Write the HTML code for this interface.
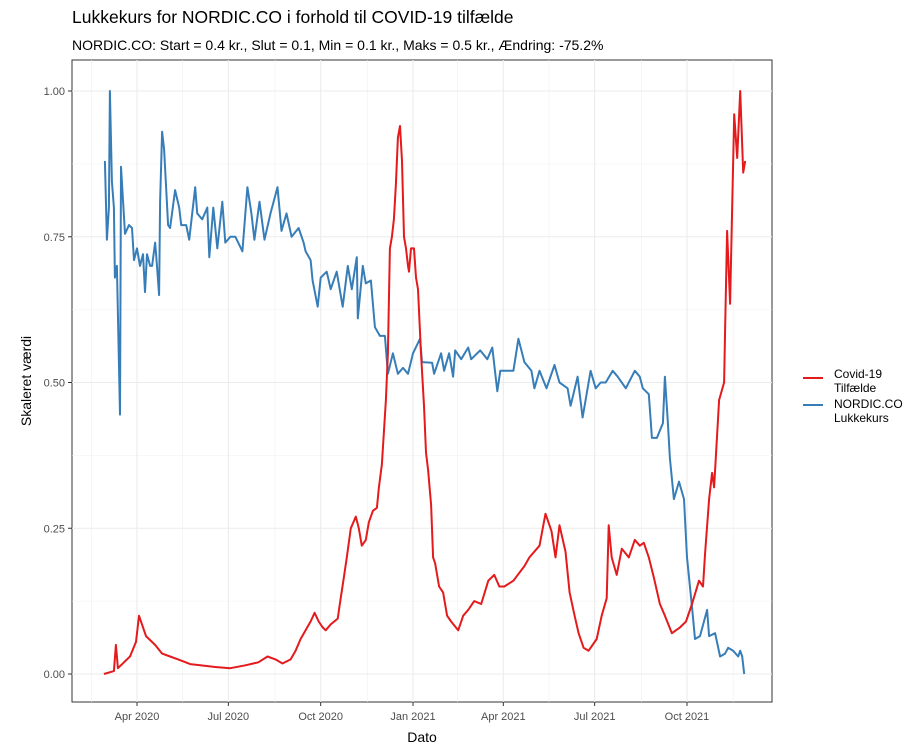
<!DOCTYPE html>
<html><head><meta charset="utf-8"><style>
body{margin:0;background:#fff;font-family:"Liberation Sans",sans-serif}
svg text{font-family:"Liberation Sans",sans-serif}
</style></head><body>
<svg id="c" width="921" height="749" xmlns="http://www.w3.org/2000/svg">
<text x="72" y="23" font-size="17.5" fill="#000">Lukkekurs for NORDIC.CO i forhold til COVID-19 tilfælde</text>
<text x="72" y="50" font-size="14" fill="#000">NORDIC.CO: Start = 0.4 kr., Slut = 0.1, Min = 0.1 kr., Maks = 0.5 kr., Ændring: -75.2%</text>
<rect x="72" y="60" width="700" height="642" fill="#fff" stroke="#333" stroke-width="1"/>
<g id="grid"></g><g id="series"></g><g id="axes"></g>
<text transform="translate(31,381) rotate(-90)" text-anchor="middle" font-size="14">Skaleret værdi</text>
<text x="422" y="742" text-anchor="middle" font-size="14">Dato</text>
<g>
<line x1="803" y1="378" x2="823" y2="378" stroke="#e41a1c" stroke-width="2"/>
<text x="834" y="378" font-size="12">Covid-19</text>
<text x="834" y="392" font-size="12">Tilfælde</text>
<line x1="803" y1="405" x2="823" y2="405" stroke="#377eb8" stroke-width="2"/>
<text x="834" y="408" font-size="12">NORDIC.CO</text>
<text x="834" y="422" font-size="12">Lukkekurs</text>
</g>
</svg>
<script>
// [days since 2020-03-01, scaled value]
const redSeries=[[-2,0],[8,0.005],[10,0.05],[12,0.01],[18,0.02],[24,0.03],[30,0.055],[33,0.10],[36,0.085],[40,0.065],[49,0.05],[56,0.035],[64,0.03],[72,0.025],[84,0.017],[94,0.015],[109,0.012],[124,0.01],[139,0.015],[152,0.02],[161,0.03],[169,0.025],[176,0.018],[184,0.025],[189,0.04],[194,0.06],[199,0.075],[204,0.09],[208,0.105],[212,0.09],[216,0.08],[219,0.075],[224,0.085],[231,0.095],[234,0.13],[237,0.165],[240,0.2],[244,0.25],[249,0.27],[252,0.25],[255,0.22],[259,0.23],[262,0.26],[266,0.28],[270,0.285],[272,0.32],[275,0.36],[279,0.47],[281,0.55],[283,0.73],[285,0.75],[287,0.78],[289,0.84],[291,0.92],[293,0.94],[295,0.88],[297,0.75],[299,0.73],[301,0.70],[302,0.69],[304,0.73],[307,0.73],[309,0.68],[311,0.66],[314,0.55],[317,0.46],[319,0.38],[321,0.35],[324,0.29],[326,0.2],[328,0.19],[332,0.15],[336,0.14],[340,0.10],[344,0.09],[351,0.075],[356,0.10],[361,0.11],[367,0.125],[374,0.12],[381,0.16],[387,0.17],[392,0.15],[397,0.15],[406,0.16],[417,0.185],[422,0.2],[432,0.22],[438,0.275],[444,0.245],[448,0.2],[452,0.255],[458,0.21],[462,0.14],[467,0.10],[471,0.07],[476,0.045],[481,0.04],[489,0.06],[494,0.10],[499,0.13],[501,0.255],[504,0.2],[509,0.17],[514,0.215],[521,0.2],[527,0.23],[532,0.22],[536,0.225],[541,0.2],[546,0.165],[552,0.12],[557,0.10],[564,0.07],[572,0.08],[578,0.09],[584,0.12],[591,0.16],[595,0.15],[597,0.205],[601,0.30],[604,0.345],[606,0.32],[611,0.47],[616,0.5],[617,0.59],[619,0.76],[622,0.635],[624,0.795],[626,0.96],[629,0.885],[632,1.0],[635,0.86],[637,0.88]];
const blueSeries=[[-1,0.88],[1,0.745],[3,0.8],[4,1.0],[6,0.845],[8,0.8],[9,0.68],[11,0.7],[14,0.445],[15,0.87],[19,0.755],[23,0.77],[26,0.765],[28,0.71],[31,0.73],[34,0.70],[37,0.72],[39,0.655],[41,0.72],[44,0.70],[46,0.70],[49,0.74],[50,0.72],[53,0.65],[54,0.81],[56,0.93],[58,0.9],[62,0.77],[64,0.765],[69,0.83],[73,0.8],[75,0.77],[80,0.77],[83,0.745],[89,0.835],[91,0.79],[96,0.78],[101,0.8],[103,0.715],[107,0.8],[111,0.73],[116,0.81],[119,0.74],[124,0.75],[129,0.75],[136,0.725],[141,0.835],[145,0.79],[148,0.745],[153,0.81],[158,0.745],[164,0.79],[171,0.835],[175,0.76],[180,0.79],[185,0.75],[192,0.765],[197,0.74],[199,0.725],[204,0.71],[206,0.675],[211,0.63],[214,0.68],[220,0.69],[224,0.66],[230,0.69],[236,0.63],[241,0.70],[245,0.66],[250,0.715],[251,0.61],[256,0.70],[259,0.67],[264,0.675],[268,0.595],[273,0.58],[278,0.58],[281,0.515],[286,0.55],[291,0.515],[296,0.525],[301,0.515],[306,0.55],[313,0.575],[315,0.535],[325,0.534],[327,0.515],[334,0.55],[337,0.52],[342,0.55],[346,0.51],[348,0.555],[354,0.54],[361,0.56],[364,0.54],[373,0.555],[380,0.54],[385,0.56],[390,0.485],[393,0.52],[406,0.52],[411,0.575],[417,0.535],[424,0.52],[427,0.49],[432,0.52],[439,0.49],[447,0.53],[452,0.5],[460,0.49],[463,0.46],[470,0.51],[475,0.44],[478,0.47],[483,0.52],[488,0.49],[493,0.5],[498,0.5],[505,0.52],[510,0.51],[518,0.49],[527,0.52],[532,0.51],[535,0.49],[541,0.48],[543,0.43],[544,0.405],[549,0.405],[555,0.43],[557,0.51],[560,0.43],[562,0.37],[566,0.30],[571,0.33],[576,0.30],[579,0.20],[584,0.115],[587,0.06],[592,0.065],[599,0.11],[601,0.065],[607,0.07],[612,0.03],[617,0.035],[620,0.045],[625,0.04],[630,0.03],[632,0.04],[634,0.03],[636,0.0]];
const tickVals=[0,0.25,0.5,0.75,1.0];
const tickLabels=["0.00","0.25","0.50","0.75","1.00"];
const xTickDays=[31,122,214,306,396,487,579];
const xTickLabels=["Apr 2020","Jul 2020","Oct 2020","Jan 2021","Apr 2021","Jul 2021","Oct 2021"];
const NS="http://www.w3.org/2000/svg";
const xs=d=>105.9+d*1.0036, ys=v=>674-v*583;
function mk(t,a,p){const e=document.createElementNS(NS,t);for(const k in a)e.setAttribute(k,a[k]);p.appendChild(e);return e;}
const grid=document.getElementById('grid'),axes=document.getElementById('axes'),ser=document.getElementById('series');
for(let i=0;i<tickVals.length-1;i++){const m=(tickVals[i]+tickVals[i+1])/2;
 const l=mk('line',{x1:72,x2:772,y1:ys(m),y2:ys(m),stroke:'#f0f0f0','stroke-width':0.6},grid);
 
 }
const minorDays=xTickDays.map(d=>d-45.5).concat([625]);
minorDays.forEach(m=>{
 const l=mk('line',{y1:60,y2:702,x1:xs(m),x2:xs(m),stroke:'#f0f0f0','stroke-width':0.6},grid);
 
 });
tickVals.forEach((v,i)=>{
 const g=mk('line',{x1:72,x2:772,y1:ys(v),y2:ys(v),stroke:'#ebebeb','stroke-width':1.1},grid);
 
 
 const t=mk('line',{x1:68,x2:72,y1:ys(v),y2:ys(v),stroke:'#333'},axes);
 
 
 const tx=mk('text',{x:65,y:ys(v)+4,'text-anchor':'end','font-size':11,fill:'#4d4d4d'},axes);tx.textContent=tickLabels[i];
 
 });
xTickDays.forEach((d,i)=>{
 const g=mk('line',{y1:60,y2:702,x1:xs(d),x2:xs(d),stroke:'#ebebeb','stroke-width':1.1},grid);
 
 
 const t=mk('line',{y1:702,y2:706,x1:xs(d),x2:xs(d),stroke:'#333'},axes);
 
 
 const tx=mk('text',{x:xs(d),y:720,'text-anchor':'middle','font-size':11,fill:'#4d4d4d'},axes);tx.textContent=xTickLabels[i];
 
 });
function line(series,col,name){const p=series.map(s=>xs(s[0]).toFixed(1)+','+ys(s[1]).toFixed(1)).join(' ');
 const e=mk('polyline',{points:p,fill:'none',stroke:col,'stroke-width':2,'stroke-linejoin':'round'},ser);
 
 }
line(blueSeries,'#377eb8','nordic-close-line');
line(redSeries,'#e41a1c','covid-cases-line');
</script>
</body></html>
